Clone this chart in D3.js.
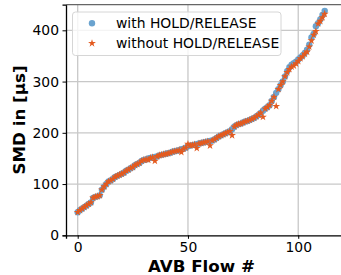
<!DOCTYPE html>
<html>
<head>
<meta charset="utf-8">
<script src="https://cdn.jsdelivr.net/npm/d3@7"></script>
<style>
  body { margin: 0; background: #fff; }
  text { font-family: "DejaVu Sans", sans-serif; }
</style>
</head>
<body>
<script>
const width = 341;
const height = 275;

// SMD per AVB flow (µs)
const withHold = [45, 49, 52, 55, 58, 61, 64, 73, 75, 76,
  78, 89, 95, 100, 105, 107, 110, 114, 116, 118,
  120, 122, 126, 128, 131, 133, 137, 139, 141, 145,
  147, 148, 150, 151, 152, 153, 154, 156, 157, 158,
  159, 160, 161, 163, 164, 165, 166, 168, 169, 171,
  174, 175, 176, 177, 178, 179, 180, 181, 182, 183,
  184, 185, 187, 190, 193, 195, 197, 199, 201, 203,
  207, 212, 215, 217, 218, 220, 222, 223, 225, 227,
  229, 232, 235, 239, 243, 247, 250, 254, 262, 270,
  278, 285, 293, 300, 310, 320, 328, 333, 336, 339,
  343, 347, 351, 356, 362, 372, 386, 393, 408, 414,
  421, 430, 438];

const withoutHold = [45, 49, 52, 55, 58, 61, 64, 73, 75, 76,
  78, 89, 95, 100, 105, 107, 110, 114, 116, 118,
  120, 122, 126, 128, 131, 133, 137, 139, 141, 145,
  147, 148, 147, 151, 152, 145, 154, 156, 157, 158,
  159, 160, 161, 163, 164, 165, 166, 162, 169, 171,
  178, 175, 176, 177, 170, 179, 180, 181, 182, 183,
  175, 185, 187, 190, 193, 195, 197, 199, 201, 203,
  195, 212, 215, 217, 218, 220, 222, 223, 225, 227,
  229, 232, 235, 239, 231, 247, 250, 254, 262, 270,
  252, 285, 293, 300, 310, 318, 324, 329, 331, 335,
  340, 345, 349, 354, 358, 368, 380, 391, 398, 413,
  418, 425, 432];

const xTicks = [0, 50, 100];
const yTicks = [0, 100, 200, 300, 400];
const seriesNames = ["with HOLD/RELEASE", "without HOLD/RELEASE"];
const blue = "#6aa3cf";
const orange = "#e35a1f";

const svg = d3.select("body").append("svg")
  .attr("width", width)
  .attr("height", height);

const x = d3.scaleLinear().domain([-5.3, 121.2]).range([66, 345]);
const y = d3.scaleLinear().domain([0, 450]).range([235.3, 4.7]);

// grid
svg.append("g").selectAll("line.gx")
  .data(xTicks)
  .join("line")
  .attr("x1", d => x(d)).attr("x2", d => x(d))
  .attr("y1", y(450)).attr("y2", y(0))
  .attr("stroke", "#c8c8c8").attr("stroke-width", 1.3);

svg.append("g").selectAll("line.gy")
  .data(yTicks.filter(d => d > 0))
  .join("line")
  .attr("x1", x(-5.3)).attr("x2", width)
  .attr("y1", d => y(d)).attr("y2", d => y(d))
  .attr("stroke", "#c8c8c8").attr("stroke-width", 1.3);

// points
const idx = (arr) => arr.map((v, i) => ({ i, v }));

svg.append("g").selectAll("circle")
  .data(idx(withHold))
  .join("circle")
  .attr("cx", d => x(d.i))
  .attr("cy", d => y(d.v))
  .attr("r", 3.2)
  .attr("fill", blue);

const star = d3.symbol().type(d3.symbolStar).size(19);
svg.append("g").selectAll("path")
  .data(idx(withoutHold))
  .join("path")
  .attr("d", star)
  .attr("transform", d => `translate(${x(d.i)},${y(d.v)})`)
  .attr("fill", orange);

// axes
const xAxis = d3.axisBottom(x).tickValues(xTicks).tickSize(3.5).tickPadding(3.5);
const yAxis = d3.axisLeft(y).tickValues(yTicks).tickSize(3.5).tickPadding(3.5);

const gx = svg.append("g")
  .attr("transform", `translate(0,${y(0)})`)
  .call(xAxis);
gx.select(".domain").attr("stroke", "#000").attr("stroke-width", 1.3);
gx.selectAll("text").attr("font-size", 13.9).attr("fill", "#000")
  .attr("font-family", "DejaVu Sans");

const gy = svg.append("g")
  .attr("transform", `translate(${x(-5.3)},0)`)
  .call(yAxis);
gy.select(".domain").attr("stroke", "#000").attr("stroke-width", 1.3);
gy.selectAll("text").attr("font-size", 13.9).attr("fill", "#000")
  .attr("font-family", "DejaVu Sans");

// top spine
svg.append("line")
  .attr("x1", x(-5.3)).attr("x2", width)
  .attr("y1", y(450)).attr("y2", y(450))
  .attr("stroke", "#666").attr("stroke-width", 1.3);

// labels
svg.append("text")
  .attr("x", (x(-5.3) + width) / 2 - 2)
  .attr("y", 272)
  .attr("text-anchor", "middle")
  .attr("font-size", 16.7)
  .attr("font-weight", "bold")
  .text("AVB Flow #");

svg.append("text")
  .attr("transform", `translate(24.5,${(y(0) + y(450)) / 2}) rotate(-90)`)
  .attr("text-anchor", "middle")
  .attr("font-size", 16.7)
  .attr("font-weight", "bold")
  .text("SMD in [µs]");

// legend
const legend = svg.append("g");
legend.append("rect")
  .attr("x", 72.5).attr("y", 12)
  .attr("width", 208.5).attr("height", 43.5)
  .attr("rx", 3)
  .attr("fill", "#fff").attr("fill-opacity", 0.8)
  .attr("stroke", "#d6d6d6");

legend.append("circle")
  .attr("cx", 92).attr("cy", 23.3).attr("r", 3.2).attr("fill", blue);
legend.append("path")
  .attr("d", star)
  .attr("transform", "translate(92,43.3)")
  .attr("fill", orange);

legend.selectAll("text")
  .data(seriesNames)
  .join("text")
  .attr("x", 116)
  .attr("y", (d, i) => 23.3 + i * 20)
  .attr("dy", "0.36em")
  .attr("font-size", 13.9)
  .attr("fill", "#000")
  .text(d => d);
</script>
</body>
</html>
